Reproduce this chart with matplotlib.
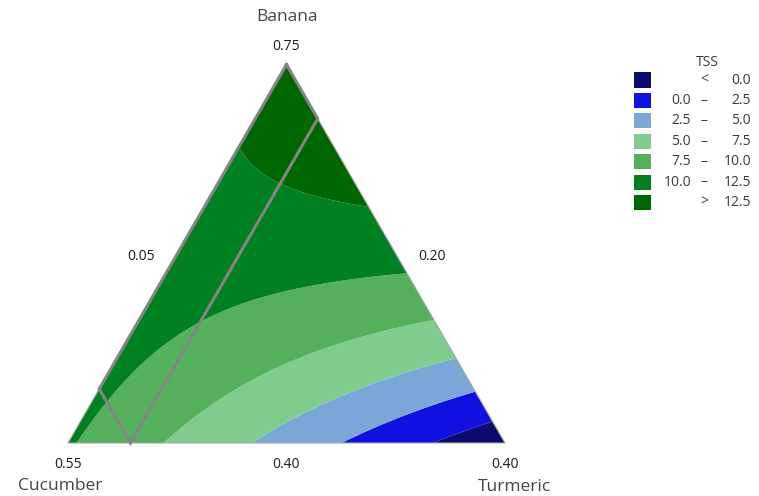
import numpy as np
import matplotlib
matplotlib.use("Agg")
import matplotlib.pyplot as plt
from matplotlib.patches import Rectangle

plt.rcParams["font.family"] = ["Open Sans", "DejaVu Sans"]

# mixture components: top, bottom-left, bottom-right vertex
components = ["Banana", "Cucumber", "Turmeric"]
lower = [0.40, 0.20, 0.05]
vertex_amount = [0.75, 0.55, 0.40]

# fitted TSS model, Scheffe quadratic in pseudo-components
linear_coef = [13.76, 10.25, -1.96]          # B, C, T
cross_coef = [-2.92, 19.84, -0.46]           # B*C, B*T, C*T

tss_levels = [0.0, 2.5, 5.0, 7.5, 10.0, 12.5]
tss_colors = ["#0b0b6d", "#1010e0", "#7ba6d8", "#80cc8e", "#55b05c", "#008020", "#006600"]

# feasible region (Banana, Cucumber, Turmeric)
region = [(0.75, 0.20, 0.05), (0.70, 0.20, 0.10), (0.40, 0.50, 0.10), (0.45, 0.50, 0.05)]

W, H = 759, 496
X0, Y0, SIDE = 68, 443, 437   # pixel position of the Cucumber vertex, side length
S3 = np.sqrt(3) / 2
RANGE = 1 - sum(lower)


def pseudo(real):
    return [(r - l) / RANGE for r, l in zip(real, lower)]


def to_xy(b, c, t):
    return t + 0.5 * b, S3 * b


def tss(b, c, t):
    return (linear_coef[0] * b + linear_coef[1] * c + linear_coef[2] * t
            + cross_coef[0] * b * c + cross_coef[1] * b * t + cross_coef[2] * c * t)


fig = plt.figure(figsize=(W / 100, H / 100), dpi=100)
ax = fig.add_axes([0, 0, 1, 1])
ax.set_xlim(-X0 / SIDE, (W - X0) / SIDE)
ax.set_ylim(-(H - Y0) / SIDE, Y0 / SIDE)
ax.axis("off")

# grid over the simplex
n = 301
bb, tt = np.meshgrid(np.linspace(0, 1, n), np.linspace(0, 1, n))
keep = bb + tt <= 1 + 1e-9
bb, tt = bb[keep], tt[keep]
cc = np.clip(1 - bb - tt, 0, 1)
gx, gy = to_xy(bb, cc, tt)
z = tss(bb, cc, tt)
bounds = [min(z.min(), tss_levels[0]) - 1] + tss_levels + [max(z.max(), tss_levels[-1]) + 1]
ax.tricontourf(gx, gy, z, levels=bounds, colors=tss_colors, antialiased=True)

# triangle outline
corners = [to_xy(1, 0, 0), to_xy(0, 1, 0), to_xy(0, 0, 1), to_xy(1, 0, 0)]
ax.plot([p[0] for p in corners], [p[1] for p in corners], color="#a8a8a8", lw=0.8)

# constraint region
poly = [to_xy(*pseudo(v)) for v in region]
poly.append(poly[0])
ax.plot([p[0] for p in poly], [p[1] for p in poly], color="#858585", lw=2.2,
        solid_joinstyle="miter")


def px(x, y):
    return (x - X0) / SIDE, (Y0 - y) / SIDE


tick_kw = dict(ha="center", va="center", fontsize=10, color="#1a1a1a")
name_kw = dict(ha="center", va="center", fontsize=12.5, color="#444444")

ax.text(*px(286, 46), f"{vertex_amount[0]:.2f}", **tick_kw)
ax.text(*px(68, 465), f"{vertex_amount[1]:.2f}", **tick_kw)
ax.text(*px(505, 465), f"{vertex_amount[2]:.2f}", **tick_kw)
ax.text(*px(141, 256), f"{lower[2]:.2f}", **tick_kw)
ax.text(*px(432, 256), f"{lower[1]:.2f}", **tick_kw)
ax.text(*px(286, 464), f"{lower[0]:.2f}", **tick_kw)

ax.text(*px(287, 17), components[0], **name_kw)
ax.text(*px(60, 486), components[1], **name_kw)
ax.text(*px(514, 487), components[2], **name_kw)

# legend
leg_kw = dict(fontsize=10, color="#3a3a3a", va="center")
fig.text(707 / W, 1 - 63 / H, "TSS", ha="center", **leg_kw)
labels = []
for i in range(len(tss_colors)):
    if i == 0:
        labels.append(("", "<", f"{tss_levels[0]:.1f}"))
    elif i == len(tss_colors) - 1:
        labels.append(("", ">", f"{tss_levels[-1]:.1f}"))
    else:
        labels.append((f"{tss_levels[i - 1]:.1f}", "\u2013", f"{tss_levels[i]:.1f}"))
for i, (col, (lo, mid, hi)) in enumerate(zip(tss_colors, labels)):
    yc = 80 + 20.4 * i
    fig.add_artist(Rectangle((634 / W, 1 - (yc + 7.5) / H), 17 / W, 15 / H,
                             transform=fig.transFigure, facecolor=col, edgecolor="none"))
    if lo:
        fig.text(691 / W, 1 - yc / H, lo, ha="right", **leg_kw)
    fig.text(704 / W, 1 - yc / H, mid, ha="center", **leg_kw)
    fig.text(751 / W, 1 - yc / H, hi, ha="right", **leg_kw)

fig.savefig("out.png", dpi=100)
